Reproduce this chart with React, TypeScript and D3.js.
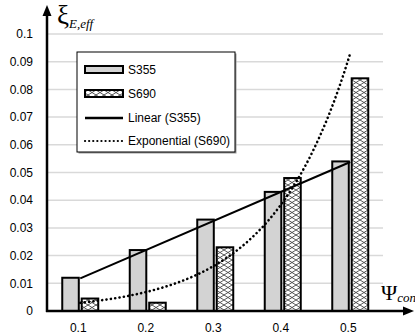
import * as d3 from 'd3';
import React from 'react';

// chart values
const categories = ['0.1', '0.2', '0.3', '0.4', '0.5'];
const seriesNames = ['S355', 'S690'];
const s355 = [0.012, 0.022, 0.033, 0.043, 0.054];
const s690 = [0.0045, 0.003, 0.023, 0.048, 0.084];
const yTicks = [0, 0.01, 0.02, 0.03, 0.04, 0.05, 0.06, 0.07, 0.08, 0.09, 0.1];

const W = 415;
const H = 336;
const tickFont = '"Liberation Sans", Arial, sans-serif';
const serif = '"Liberation Serif", "Times New Roman", serif';

// least squares fits, same as the spreadsheet trendlines
const linearFit = (ys: number[]) => {
  const xs = ys.map((_d, i) => i + 1);
  const mx = d3.mean(xs) as number;
  const my = d3.mean(ys) as number;
  const b =
    d3.sum(xs, (x, i) => (x - mx) * (ys[i] - my)) /
    d3.sum(xs, (x) => (x - mx) ** 2);
  return (x: number) => my + b * (x - mx);
};

const expFit = (ys: number[]) => {
  const lin = linearFit(ys.map((v) => Math.log(v)));
  return (x: number) => Math.exp(lin(x));
};

export default function App() {
  const x0 = d3.scaleBand<string>().domain(categories).range([46.5, 384]);
  const x1 = d3
    .scaleBand<string>()
    .domain(seriesNames)
    .range([-18, 18])
    .paddingInner(0.15);
  const y = d3.scaleLinear().domain([0, 0.1]).range([311, 34]);

  const center = (i: number) => (x0(categories[i]) as number) + x0.bandwidth() / 2;
  // trend x is 1..5 for the categories
  const tx = d3
    .scaleLinear()
    .domain([1, categories.length])
    .range([center(0), center(categories.length - 1)]);

  const lin = linearFit(s355);
  const ex = expFit(s690);
  const expPts = d3.range(1, 5.0001, 0.05).map((t) => [tx(t), y(ex(t))] as [number, number]);
  const line = d3.line();

  const axisX = 47;
  const axisY = y(0);

  const legend = { x: 77, y: 52, w: 158, h: 100 };
  const legendRows = [69.5, 93.5, 118, 141];

  return (
    <svg
      width={W}
      height={H}
      style={{ position: 'absolute', left: 0, top: 0, background: '#fff' }}
    >
      <defs>
        <pattern id="zig" width="8" height="10" patternUnits="userSpaceOnUse">
          <rect width="8" height="10" fill="#fff" />
          <path
            d="M0,0 L8,5 L0,10 M8,0 L0,5 L8,10"
            stroke="#444"
            strokeWidth="0.9"
            fill="none"
          />
        </pattern>
      </defs>

      {/* gridlines */}
      {yTicks.slice(1).map((t) => (
        <line
          key={t}
          x1={axisX}
          x2={383}
          y1={y(t)}
          y2={y(t)}
          stroke="#d9d9d9"
          strokeWidth={1.5}
        />
      ))}

      {/* y tick labels */}
      {yTicks.map((t) => (
        <text
          key={'l' + t}
          x={33}
          y={y(t)}
          dy="0.35em"
          textAnchor="end"
          fontFamily={tickFont}
          fontSize={12}
        >
          {d3.format('~g')(t)}
        </text>
      ))}

      {/* bars */}
      {categories.map((c, i) => {
        const cx = center(i);
        return (
          <g key={c}>
            <rect
              x={cx + (x1('S355') as number)}
              y={y(s355[i])}
              width={x1.bandwidth()}
              height={axisY - y(s355[i])}
              fill="#d3d3d3"
              stroke="#000"
              strokeWidth={2}
            />
            <rect
              x={cx + (x1('S690') as number)}
              y={y(s690[i])}
              width={x1.bandwidth()}
              height={axisY - y(s690[i])}
              fill="url(#zig)"
              stroke="#000"
              strokeWidth={2}
            />
            <text
              x={cx - 2}
              y={332}
              textAnchor="middle"
              fontFamily={tickFont}
              fontSize={12}
            >
              {c}
            </text>
          </g>
        );
      })}

      {/* trendlines */}
      <line
        x1={tx(1)}
        y1={y(lin(1))}
        x2={tx(5)}
        y2={y(lin(5))}
        stroke="#000"
        strokeWidth={2}
      />
      <path
        d={line(expPts) as string}
        fill="none"
        stroke="#000"
        strokeWidth={2.6}
        strokeLinecap="round"
        strokeDasharray="0.1 4.3"
      />

      {/* axes with arrows */}
      <line x1={axisX} x2={axisX} y1={axisY + 1} y2={14} stroke="#000" strokeWidth={2.5} />
      <path d={`M${axisX},5 L${axisX - 4.5},16 L${axisX + 4.5},16 Z`} fill="#000" />
      <line x1={axisX - 1} x2={405} y1={axisY} y2={axisY} stroke="#000" strokeWidth={2.5} />
      <path d={`M414,${axisY} L403,${axisY - 4.5} L403,${axisY + 4.5} Z`} fill="#000" />

      {/* axis titles */}
      <text x={57} y={24} fontFamily={serif} fontSize={27}>
        ξ
        <tspan fontSize={13} fontStyle="italic" dy={4}>
          E,eff
        </tspan>
      </text>
      <text x={381} y={300} fontFamily={serif} fontSize={22}>
        Ψ
        <tspan fontSize={13} fontStyle="italic" dy={2}>
          con
        </tspan>
      </text>

      {/* legend */}
      <rect x={legend.x + 1.5} y={legend.y + 1.5} width={legend.w} height={legend.h} fill="#999" />
      <rect
        x={legend.x}
        y={legend.y}
        width={legend.w}
        height={legend.h}
        fill="#fff"
        stroke="#000"
        strokeWidth={1}
      />
      <rect x={85} y={legendRows[0] - 3.5} width={38} height={7} fill="#d3d3d3" stroke="#000" strokeWidth={2} />
      <rect x={85} y={legendRows[1] - 3.5} width={38} height={7} fill="url(#zig)" stroke="#000" strokeWidth={2} />
      <line x1={85} x2={123} y1={legendRows[2]} y2={legendRows[2]} stroke="#000" strokeWidth={2.5} />
      <line
        x1={85}
        x2={123}
        y1={legendRows[3]}
        y2={legendRows[3]}
        stroke="#000"
        strokeWidth={2.2}
        strokeLinecap="round"
        strokeDasharray="0.1 4"
      />
      {['S355', 'S690', 'Linear (S355)', 'Exponential (S690)'].map((t, i) => (
        <text
          key={t}
          x={128}
          y={legendRows[i]}
          dy="0.35em"
          fontFamily={tickFont}
          fontSize={12}
        >
          {t}
        </text>
      ))}
    </svg>
  );
}
